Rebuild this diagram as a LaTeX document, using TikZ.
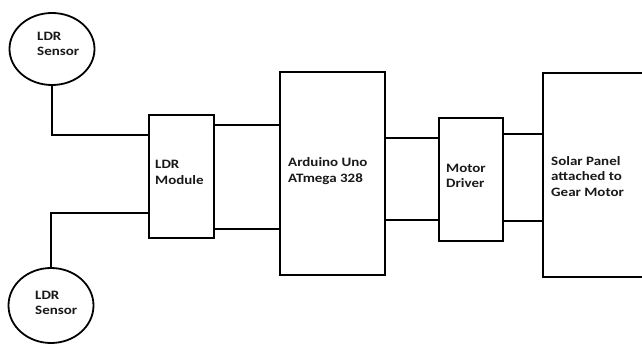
\documentclass[tikz,border=0pt]{standalone}
\usepackage{fontspec}
\setmainfont{Carlito}[FakeStretch=1.17]
\usetikzlibrary{shapes.geometric}
\tikzset{
  blk/.style={draw, line width=1.8pt, rectangle, inner sep=0pt},
  sensor/.style={draw, line width=1.8pt, ellipse, inner sep=0pt},
  wire/.style={line width=1.8pt},
  lbl/.style={anchor=base west, inner sep=0pt, align=left, font=\bfseries\fontsize{12.8}{15.3}\selectfont, text=black!90}
}
\begin{document}
\begin{tikzpicture}[x=1pt,y=-1pt]
\path[use as bounding box, clip] (0,0) rectangle (642,345);
\fill[white] (0,0) rectangle (642,345);
% shapes
\node[sensor, minimum width=85pt, minimum height=72pt] (s1) at (52,49) {};
\node[sensor, minimum width=85pt, minimum height=75pt] (s2) at (51,305.5) {};
\node[blk, minimum width=65pt, minimum height=123pt] (mod) at (181.5,176.5) {};
\node[blk, minimum width=105pt, minimum height=203pt] (ard) at (332.5,173.5) {};
\node[blk, minimum width=64pt, minimum height=123pt] (mot) at (471,179.5) {};
\node[blk, minimum width=130pt, minimum height=204pt] (sol) at (608,175) {};
% labels (anchored at the baseline of the last line)
\node[lbl] (t1) at (37,55.5) {LDR\\Sensor};
\node[lbl] (t2) at (35,314.5) {LDR\\Sensor};
\node[lbl] (t3) at (155,184) {LDR\\Module};
\node[lbl] (t4) at (288,182) {Arduino Uno\\ATmega 328};
\node[lbl] (t5) at (446,187.5) {Motor\\Driver};
\node[lbl] (t6) at (551,196) {Solar Panel\\attached to\\Gear Motor};
% connectors
\draw[wire] (s1.south) |- (mod.west |- 0,135);
\draw[wire] (s2.north) |- (mod.west |- 0,213);
\draw[wire] (mod.east |- 0,125) -- (ard.west |- 0,125);
\draw[wire] (mod.east |- 0,229) -- (ard.west |- 0,229);
\draw[wire] (ard.east |- 0,138) -- (mot.west |- 0,138);
\draw[wire] (ard.east |- 0,220) -- (mot.west |- 0,220);
\draw[wire] (mot.east |- 0,134) -- (sol.west |- 0,134);
\draw[wire] (mot.east |- 0,221) -- (sol.west |- 0,221);
\end{tikzpicture}
\end{document}
